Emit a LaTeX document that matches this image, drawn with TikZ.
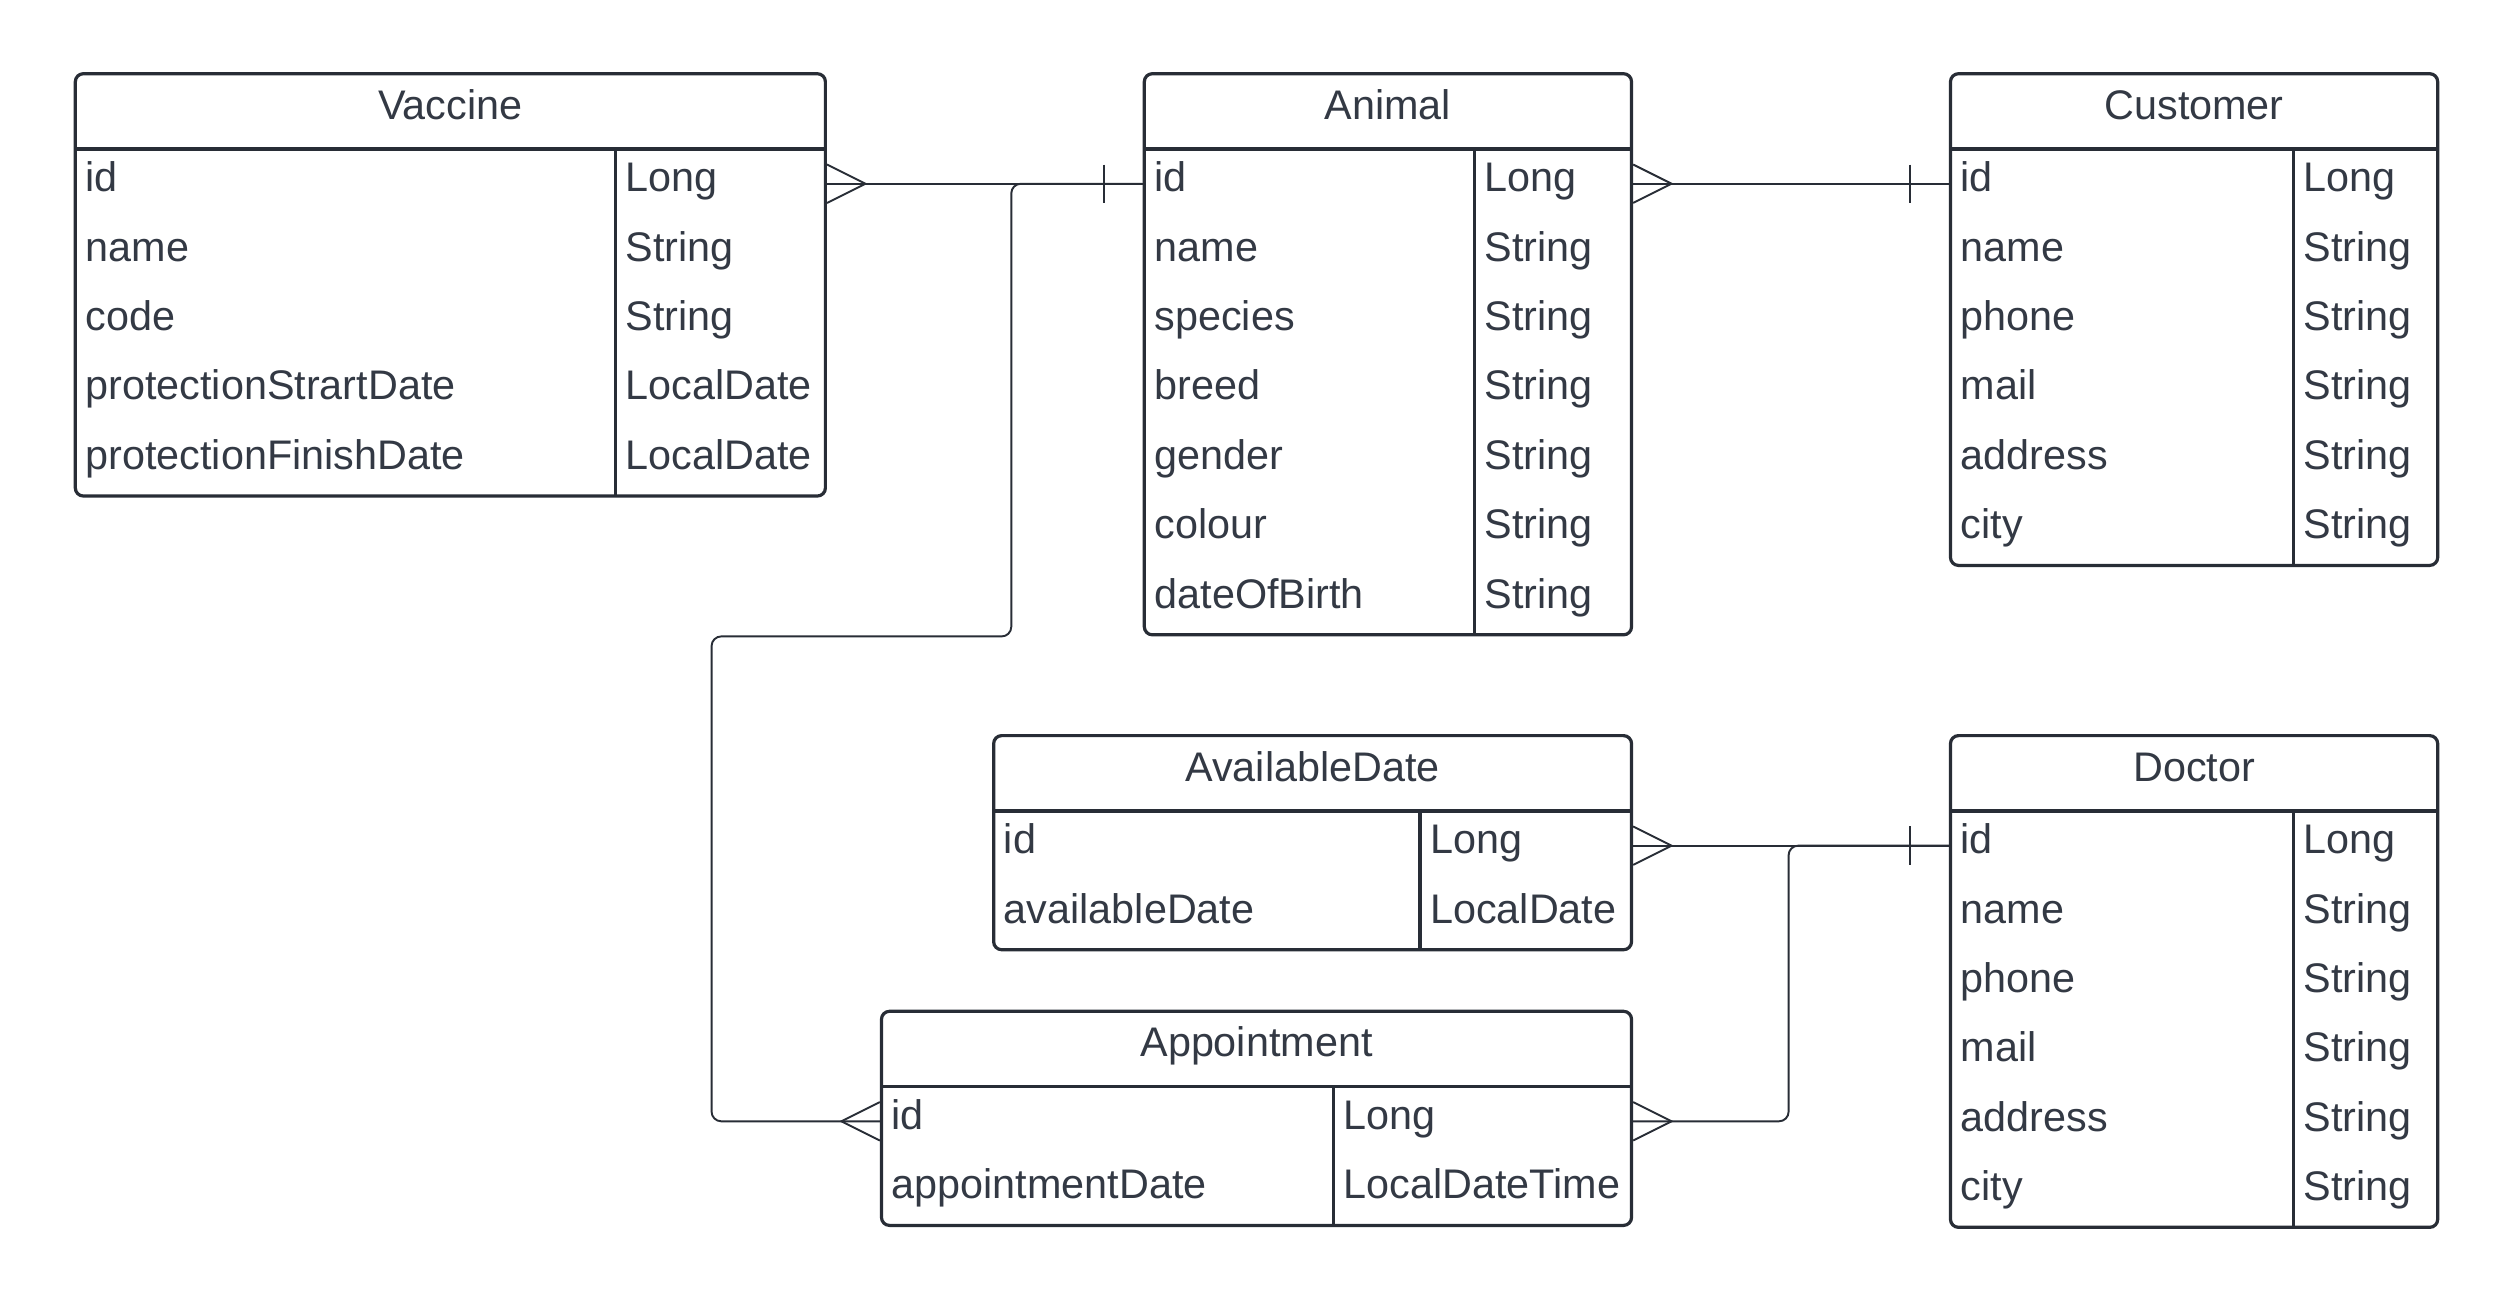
\documentclass[tikz,border=0pt]{standalone}
\usepackage{fontspec}
\setmainfont{Liberation Sans}
\usetikzlibrary{fit}
\definecolor{ink}{RGB}{40,45,54}
\definecolor{txt}{RGB}{51,57,68}
\begin{document}
\begin{tikzpicture}[x=0.5pt,y=-0.5pt,
    font=\fontsize{12.9}{15}\selectfont, color=ink,
    tbl/.style={draw=ink, line width=1pt, rounded corners=2.5pt, inner sep=0pt},
    rule/.style={draw=ink, line width=1pt},
    tabtitle/.style={text=txt, text height=0.7em, text depth=0.2em, inner sep=0pt},
    field/.style={anchor=west, text=txt, text height=0.7em, text depth=0.2em, inner sep=0pt},
    rel/.style={draw=ink, line width=0.6pt, rounded corners=3pt},
    many/.pic={\draw[line width=0.6pt] (0,-12) -- (24,0) -- (0,12);},
    one/.pic={\draw[line width=0.6pt] (-24,-12) -- (-24,12);}]
    \useasboundingbox (0,0) rectangle (1568,811.8);

    % Vaccine
    \node[tbl, fit={(47,46) (515,309.5)}] (vaccine) {};
    \draw[rule] (47,93) -- (515,93) (384,93) -- (384,309.5);
    \node[tabtitle] (vaccine-title) at (281,69.5) {Vaccine};
    \foreach \f/\t [count=\i from 0] in {id/Long, name/String, code/String,
        protectionStrartDate/LocalDate, protectionFinishDate/LocalDate} {
        \node[field] (vaccine-\f) at (53,{114.65+43.3*\i}) {\f};
        \node[field] (vaccine-\f-type) at (390,{114.65+43.3*\i}) {\t};
    }

    % Animal
    \node[tbl, fit={(714,46) (1018,396.1)}] (animal) {};
    \draw[rule] (714,93) -- (1018,93) (920,93) -- (920,396.1);
    \node[tabtitle] (animal-title) at (866,69.5) {Animal};
    \foreach \f/\t [count=\i from 0] in {id/Long, name/String, species/String,
        breed/String, gender/String, colour/String, dateOfBirth/String} {
        \node[field] (animal-\f) at (720,{114.65+43.3*\i}) {\f};
        \node[field] (animal-\f-type) at (926,{114.65+43.3*\i}) {\t};
    }

    % Customer
    \node[tbl, fit={(1217,46) (1521,352.8)}] (customer) {};
    \draw[rule] (1217,93) -- (1521,93) (1431,93) -- (1431,352.8);
    \node[tabtitle] (customer-title) at (1369,69.5) {Customer};
    \foreach \f/\t [count=\i from 0] in {id/Long, name/String, phone/String,
        mail/String, address/String, city/String} {
        \node[field] (customer-\f) at (1223,{114.65+43.3*\i}) {\f};
        \node[field] (customer-\f-type) at (1437,{114.65+43.3*\i}) {\t};
    }

    % AvailableDate
    \node[tbl, fit={(620,459) (1018,592.6)}] (available) {};
    \draw[rule] (620,506) -- (1018,506) (886,506) -- (886,592.6);
    \node[tabtitle] (available-title) at (819,482.5) {AvailableDate};
    \foreach \f/\t [count=\i from 0] in {id/Long, availableDate/LocalDate} {
        \node[field] (available-\f) at (626,{527.65+43.3*\i}) {\f};
        \node[field] (available-\f-type) at (892,{527.65+43.3*\i}) {\t};
    }

    % Doctor
    \node[tbl, fit={(1217,459) (1521,765.8)}] (doctor) {};
    \draw[rule] (1217,506) -- (1521,506) (1431,506) -- (1431,765.8);
    \node[tabtitle] (doctor-title) at (1369,482.5) {Doctor};
    \foreach \f/\t [count=\i from 0] in {id/Long, name/String, phone/String,
        mail/String, address/String, city/String} {
        \node[field] (doctor-\f) at (1223,{527.65+43.3*\i}) {\f};
        \node[field] (doctor-\f-type) at (1437,{527.65+43.3*\i}) {\t};
    }

    % Appointment
    \node[tbl, fit={(550,631) (1018,764.6)}] (appointment) {};
    \draw[rule] (550,678) -- (1018,678) (832,678) -- (832,764.6);
    \node[tabtitle] (appointment-title) at (784,654.5) {Appointment};
    \foreach \f/\t [count=\i from 0] in {id/Long, appointmentDate/LocalDateTime} {
        \node[field] (appointment-\f) at (556,{699.65+43.3*\i}) {\f};
        \node[field] (appointment-\f-type) at (838,{699.65+43.3*\i}) {\t};
    }

    % Relations
    \draw[rel] (vaccine.east |- vaccine-id) -- (animal.west |- animal-id);
    \pic at (vaccine.east |- vaccine-id) {many};
    \pic at (animal.west |- animal-id) {one};

    \draw[rel] (animal.east |- animal-id) -- (customer.west |- customer-id);
    \pic at (animal.east |- animal-id) {many};
    \pic at (customer.west |- customer-id) {one};

    \draw[rel] (animal.west |- animal-id) -| ([xshift=-41pt]animal.south west)
        -- ([xshift=-52.5pt]appointment.west |- animal.south)
        |- (appointment.west |- appointment-id);
    \pic[xscale=-1] at (appointment.west |- appointment-id) {many};

    \draw[rel] (available.east |- available-id) -- (doctor.west |- doctor-id);
    \pic at (available.east |- available-id) {many};
    \pic at (doctor.west |- doctor-id) {one};

    \draw[rel] (appointment.east |- appointment-id)
        -| ([xshift=-50pt]doctor.west |- doctor-id) -- (doctor.west |- doctor-id);
    \pic at (appointment.east |- appointment-id) {many};
\end{tikzpicture}
\end{document}
